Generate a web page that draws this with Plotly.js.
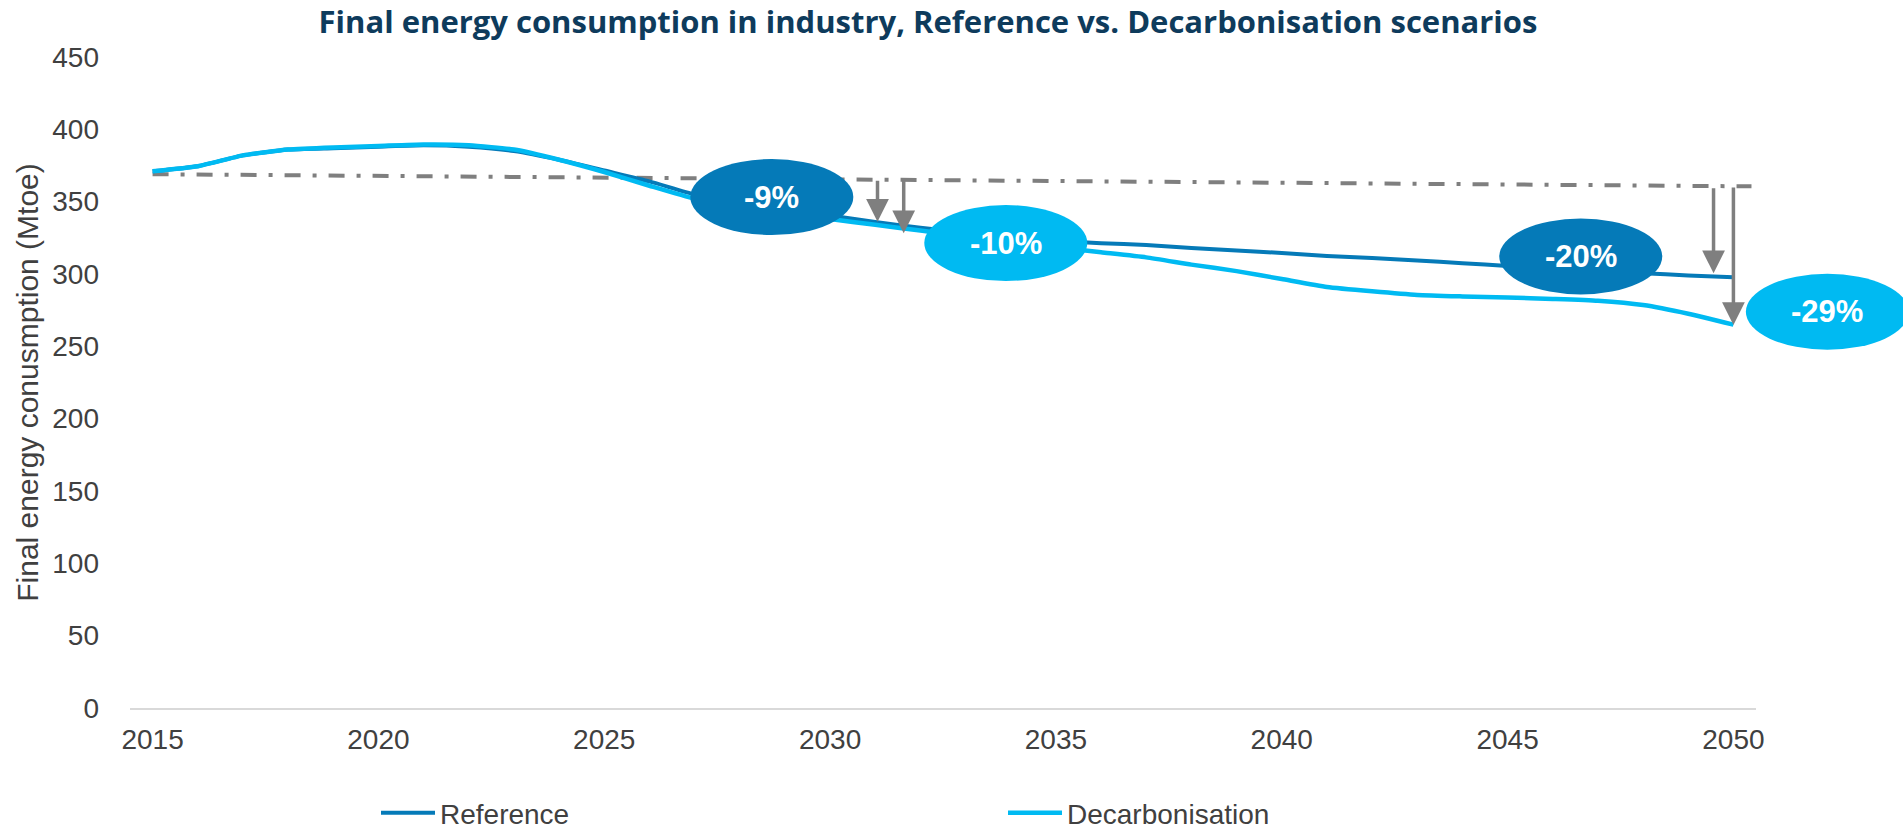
<!DOCTYPE html>
<html><head><meta charset="utf-8">
<script src="https://cdn.plot.ly/plotly-3.0.1.min.js"></script>
<style>html,body{margin:0;padding:0;background:#fff}#chart{width:1903px;height:829px}</style>
</head><body><div id="chart"></div>
<script>
const years = [2015,2016,2017,2018,2019,2020,2021,2022,2023,2024,2025,2026,2027,2028,2029,2030,2031,2032,2033,2034,2035,2036,2037,2038,2039,2040,2041,2042,2043,2044,2045,2046,2047,2048,2049,2050];
const reference = [371,374.5,382,386,387,388,389,388,385,379,371.5,364,355,349,344.5,340.5,336,332,328.5,325.5,323,321.3,320,318,316.3,314.5,312.5,311,309.4,307.5,305.5,303.5,302,300.5,299,297.7];
const decarbonisation = [371,374.5,382,386,387.5,388.5,389.5,389,386,379,370.5,361,352,346.5,342,338,334,330,326,322.5,318.5,315,311.5,306.5,302,296.5,291,288,285.5,284.5,283.8,282.8,281.5,278.5,272.5,265];
const baselineYears = [2015, 2050.4];
const baselineValues = [369, 360.6];
const arrowYears = [2031.05, 2031.63, 2049.56, 2050.0];
const arrowFrom = [365.5, 365.5, 360.3, 360.8];
const arrowTo = [336.1, 328.1, 300.5, 264.7];
const labelTexts = ['-9%', '-10%', '-20%', '-29%'];
const labelYears = [2028.71, 2033.89, 2046.62, 2052.08];
const labelValues = [353.2, 321.4, 312.1, 273.9];
const xTicks = [2015, 2020, 2025, 2030, 2035, 2040, 2045, 2050];
const yTicks = [0, 50, 100, 150, 200, 250, 300, 350, 400, 450];

const DARK = '#057AB8';
const LIGHT = '#00BAF2';
const GREY = '#7F7F7F';
const xRange = [2014.5, 2050.5];
const labelColors = [DARK, LIGHT, DARK, LIGHT];

const traces = [
  {x: baselineYears, y: baselineValues, type: 'scatter', mode: 'lines', showlegend: false, hoverinfo: 'skip',
   line: {color: GREY, width: 4, dash: '16px,12px,4px,12px'}},
  {x: years, y: reference, type: 'scatter', mode: 'lines', name: 'Reference',
   line: {color: DARK, width: 4, shape: 'spline', smoothing: 0.5}},
  {x: years, y: decarbonisation, type: 'scatter', mode: 'lines', name: 'Decarbonisation',
   line: {color: LIGHT, width: 4.5, shape: 'spline', smoothing: 0.5}}
];

const shapes = [];
const annotations = [];
labelTexts.forEach((t, i) => {
  const fx = (labelYears[i] - xRange[0]) / (xRange[1] - xRange[0]);
  shapes.push({type: 'circle', xref: 'paper', yref: 'y', xsizemode: 'pixel', ysizemode: 'pixel',
    xanchor: fx, yanchor: labelValues[i], x0: -81.5, x1: 81.5, y0: -38, y1: 38,
    fillcolor: labelColors[i], line: {width: 0}, layer: 'above'});
  annotations.push({xref: 'paper', yref: 'y', x: fx, y: labelValues[i], text: '<b>' + t + '</b>',
    showarrow: false, xanchor: 'center', yanchor: 'middle',
    font: {family: 'Liberation Sans, Arial, sans-serif', size: 31, color: '#FFFFFF'}});
});
arrowYears.forEach((yr, i) => {
  annotations.push({xref: 'x', yref: 'y', axref: 'x', ayref: 'y', x: yr, y: arrowTo[i], ax: yr, ay: arrowFrom[i],
    text: '', showarrow: true, arrowhead: 2, arrowwidth: 3.5, arrowsize: 1.3, arrowcolor: GREY, standoff: 0, startstandoff: 0});
});

const layout = {
  width: 1903, height: 829,
  margin: {l: 130, r: 147, t: 57, b: 121},
  paper_bgcolor: '#FFFFFF', plot_bgcolor: '#FFFFFF',
  font: {family: 'Liberation Sans, Arial, sans-serif', size: 28, color: '#404040'},
  title: {text: '<b>Final energy consumption in industry, Reference vs. Decarbonisation scenarios</b>',
    font: {family: 'Open Sans, sans-serif', size: 31, color: '#0E3B5C'},
    x: 928 / 1903, xanchor: 'center', y: 1 - 22 / 829, yanchor: 'middle'},
  xaxis: {range: xRange, tickvals: xTicks, ticktext: xTicks.map(String), showgrid: false, zeroline: false,
    showline: true, linecolor: '#D9D9D9', linewidth: 2, ticks: '', ticklabelstandoff: 5,
    tickfont: {size: 28, color: '#404040'}},
  yaxis: {range: [0, 450], tickvals: yTicks, ticktext: yTicks.map(String), showgrid: false, zeroline: false,
    showline: false, ticks: '', ticklabelstandoff: 30,
    tickfont: {size: 28, color: '#404040'},
    title: {text: 'Final energy conusmption (Mtoe)', font: {size: 30, color: '#404040'}, standoff: 4}},
  showlegend: true,
  legend: {orientation: 'h', xref: 'container', yref: 'container', x: 376 / 1903, xanchor: 'left',
    y: 1 - 813 / 829, yanchor: 'middle',
    entrywidth: 558, entrywidthmode: 'pixels', itemwidth: 54,
    font: {size: 28, color: '#404040'}, bgcolor: 'rgba(0,0,0,0)', traceorder: 'normal'},
  shapes: shapes,
  annotations: annotations
};

Plotly.newPlot('chart', traces, layout, {displayModeBar: false, staticPlot: true});
</script>
</body></html>
